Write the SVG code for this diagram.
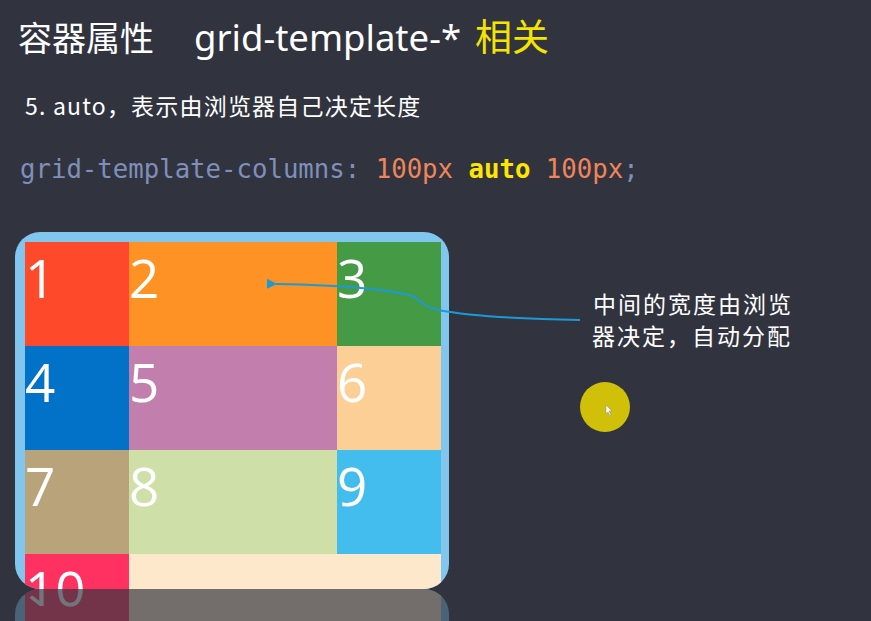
<svg xmlns="http://www.w3.org/2000/svg" xmlns:xlink="http://www.w3.org/1999/xlink" width="871" height="621" viewBox="0 0 871 621">
<style>
.cjk{font-family:"Noto Sans CJK SC","Noto Sans",sans-serif;}
.num{font-family:"Open Sans","Noto Sans",sans-serif;font-size:53px;fill:#ffffff;}
.code{font-family:"DejaVu Sans Mono","Liberation Mono",monospace;font-size:25.7px;}
</style>
<defs>
<clipPath id="box"><rect x="15" y="232" width="434" height="357" rx="25" ry="25"/></clipPath>
<clipPath id="refl"><rect x="0" y="589" width="871" height="32"/></clipPath>
<marker id="ah" viewBox="0 0 10 10" refX="1" refY="5" markerWidth="5" markerHeight="5" orient="auto-start-reverse">
<path d="M10,0 L0,5 L10,10 z" fill="#1a9ad6"/>
</marker>
</defs>
<rect x="0" y="0" width="871" height="621" fill="#31343f"/>
<g id="title">
<text x="18" y="51" class="cjk" font-size="34" fill="#ffffff">容器属性</text>
<text x="194" y="51" font-family="Noto Sans, sans-serif" font-size="36.5" fill="#ffffff">grid-template-*</text>
<text x="475" y="51" class="cjk" font-size="37" fill="#f5e400">相关</text>
</g>
<g id="subtitle">
<text x="25" y="115" class="cjk" font-size="23" fill="#ffffff" letter-spacing="1.2">5. auto，表示由浏览器自己决定长度</text>
</g>
<g id="code">
<text x="20" y="178" class="code"><tspan fill="#7f8fba">grid-template-columns: </tspan><tspan fill="#f0845a">100px </tspan><tspan fill="#ffe600" font-weight="bold">auto </tspan><tspan fill="#f0845a">100px</tspan><tspan fill="#7f8fba">;</tspan></text>
</g>
<g id="grid">
<g clip-path="url(#box)">
<rect x="15" y="232" width="434" height="357" fill="#80c6ee"/>
<g id="cell1"><rect x="25" y="242" width="104" height="104" fill="#fe4a2a"/><text x="25" y="298" class="num">1</text></g>
<g id="cell2"><rect x="129" y="242" width="208" height="104" fill="#fe9224"/><text x="129" y="298" class="num">2</text></g>
<g id="cell3"><rect x="337" y="242" width="104" height="104" fill="#459b45"/><text x="337" y="298" class="num">3</text></g>
<g id="cell4"><rect x="25" y="346" width="104" height="104" fill="#0271c8"/><text x="25" y="402" class="num">4</text></g>
<g id="cell5"><rect x="129" y="346" width="208" height="104" fill="#c27fae"/><text x="129" y="402" class="num">5</text></g>
<g id="cell6"><rect x="337" y="346" width="104" height="104" fill="#fbcf95"/><text x="337" y="402" class="num">6</text></g>
<g id="cell7"><rect x="25" y="450" width="104" height="104" fill="#b9a37a"/><text x="25" y="506" class="num">7</text></g>
<g id="cell8"><rect x="129" y="450" width="208" height="104" fill="#cedfa8"/><text x="129" y="506" class="num">8</text></g>
<g id="cell9"><rect x="337" y="450" width="104" height="104" fill="#42bdee"/><text x="337" y="506" class="num">9</text></g>
<g id="cell10"><rect x="25" y="554" width="104" height="40" fill="#fe3160"/><text x="25" y="610" class="num">10</text></g>
<rect x="129" y="554" width="312" height="40" fill="#fde8cb"/>
</g>
</g>
<g id="reflection" clip-path="url(#refl)" opacity="0.32">
<use xlink:href="#grid" transform="translate(0,1178) scale(1,-1)"/>
</g>
<g id="connectors">
<path d="M580,320 C520,319 470,316 438,310 C420,306 422,300 412,296 C385,288 330,285 276,284" fill="none" stroke="#1a9ad6" stroke-width="2" marker-end="url(#ah)"/>
</g>
<g id="callout">
<text x="593" y="313" class="cjk" font-size="23" fill="#ffffff" letter-spacing="2">中间的宽度由浏览</text>
<text x="592" y="345" class="cjk" font-size="23" fill="#ffffff" letter-spacing="2">器决定，自动分配</text>
</g>
<g id="cursor">
<circle cx="605" cy="407" r="25" fill="#d0c00a"/>
<path d="M606,405 L606,414 L608,412 L610,416 L611,415 L609,411 L612,411 z" fill="#ffffff" stroke="#888888" stroke-width="0.5"/>
</g>
</svg>
